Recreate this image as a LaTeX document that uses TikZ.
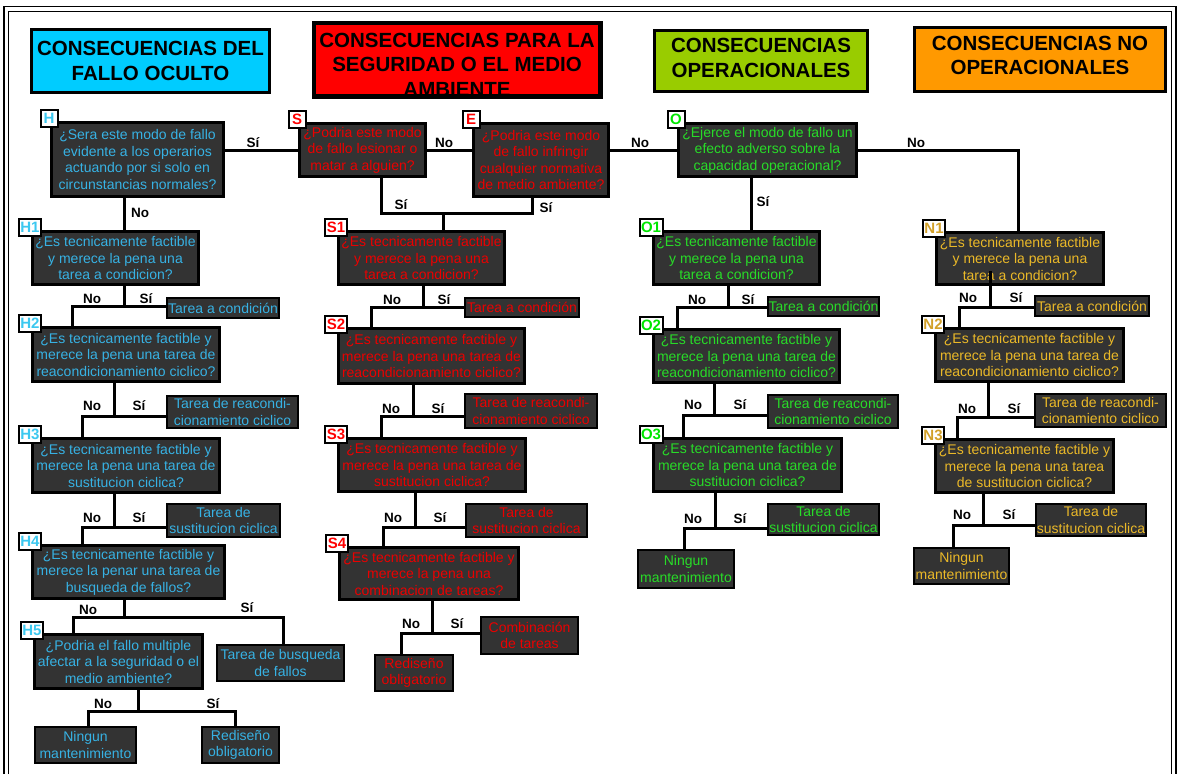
\documentclass[tikz,border=0pt]{standalone}
\usepackage{fontspec}
\setmainfont{Liberation Sans}
\definecolor{bxg}{RGB}{51,51,51}
\definecolor{hc}{RGB}{55,178,228}
\definecolor{sc}{RGB}{235,0,0}
\definecolor{oc}{RGB}{40,220,40}
\definecolor{nc}{RGB}{235,185,40}
\definecolor{htag}{RGB}{60,200,240}
\definecolor{otag}{RGB}{0,230,0}
\definecolor{ntag}{RGB}{210,160,40}
\definecolor{cyanh}{RGB}{0,204,255}
\definecolor{greenh}{RGB}{153,204,0}
\definecolor{orangeh}{RGB}{255,153,0}
\tikzset{
  qbox/.style={draw=black, line width=3pt, fill=bxg, inner sep=0pt, align=center, anchor=north west,
    font=\fontsize{14}{16.5}\selectfont},
  abox/.style={qbox, line width=2pt},
  tagbox/.style={draw=black, line width=2pt, fill=white, inner sep=1.5pt, minimum height=17pt, minimum width=17pt,
    font=\bfseries\fontsize{15}{15}\selectfont},
  hbox/.style={draw=black, line width=3pt, anchor=north west, inner sep=0pt},
  htext/.style={align=center, inner sep=0pt, font=\bfseries\fontsize{20.5}{24.5}\selectfont},
  conn/.style={line width=3pt, line join=miter},
  lab/.style={inner sep=0pt, font=\bfseries\fontsize{13.5}{13.5}\selectfont}
}
\newcommand\qb[7]{\node[qbox, text=#6, minimum width={#4-#2}, minimum height={#5-#3}] (#1) at (#2,#3) {#7};}
\newcommand\ab[7]{\node[abox, text=#6, minimum width={#4-#2}, minimum height={#5-#3}] (#1) at (#2,#3) {#7};}
\newcommand\tg[3]{\node[tagbox, text=#2] (tag#1) at ([xshift=-1pt,yshift=3pt]#1.north west) {#3};}
\newcommand\stp[6]{%
  \coordinate (#1j) at (#4,#5); \coordinate (#1l) at (#6,#5);
  \draw[conn] (#1.south -| #1j) -- (#1j);
  \draw[conn] (#2.north -| #1l) -- (#1l) -- (#3.west |- #1l);}
\begin{document}
\begin{tikzpicture}[x=1pt,y=-1pt]
\useasboundingbox (0,0) rectangle (1178,774);
\fill[white] (0,0) rectangle (1178,774);
% frame
\draw[line width=1.6pt] (4,774) -- (4,6.5) -- (1176,6.5) -- (1176,774);
\draw[line width=0.9pt] (8.5,774) -- (8.5,11) -- (1171,11) -- (1171,774);
% headers
\node[hbox, fill=cyanh, minimum width=238, minimum height=63] (hdrH) at (30,28) {};
\node[htext] (thdrH) at (hdrH.center) {CONSECUENCIAS DEL\\FALLO OCULTO};
\node[hbox, fill=red, minimum width=285, minimum height=72] (hdrS) at (313,22) {};
\node[htext] (thdrS) at ([yshift=-5pt]hdrS.center) {CONSECUENCIAS PARA LA\\SEGURIDAD O EL MEDIO\\AMBIENTE};
\fill[white] (310,96) rectangle (601,104);
\draw[line width=3pt] (hdrS.north west) rectangle (hdrS.south east);
\node[hbox, fill=greenh, minimum width=213, minimum height=61] (hdrO) at (653,29) {};
\node[htext] (thdrO) at ([yshift=3pt]hdrO.center) {CONSECUENCIAS\\OPERACIONALES};
\node[hbox, fill=orangeh, minimum width=251, minimum height=64] (hdrN) at (913,26) {};
\node[htext] (thdrN) at ([yshift=4pt]hdrN.center) {CONSECUENCIAS NO\\OPERACIONALES};
% column H
\qb{H}{50}{121}{222}{195}{hc}{¿Sera este modo de fallo\\evidente a los operarios\\actuando por si solo en\\circunstancias normales?}
\qb{H1}{31}{230}{197}{283}{hc}{¿Es tecnicamente factible\\y merece la pena una\\tarea a condicion?}
\ab{tH1}{166}{297}{278}{317}{hc}{Tarea a condición}
\qb{H2}{31}{326}{218}{380}{hc}{¿Es tecnicamente factible y\\merece la pena una tarea de\\reacondicionamiento ciclico?}
\ab{tH2}{166}{395}{297}{427}{hc}{Tarea de reacondi-\\cionamiento ciclico}
\qb{H3}{31}{437}{218}{491}{hc}{¿Es tecnicamente factible y\\merece la pena una tarea de\\sustitucion ciclica?}
\ab{tH3}{166}{503}{279}{536}{hc}{Tarea de\\sustitucion ciclica}
\qb{H4}{31}{544}{223}{597}{hc}{¿Es tecnicamente factible y\\merece la penar una tarea de\\busqueda de fallos?}
\ab{tH4}{216}{644}{343}{680}{hc}{Tarea de busqueda\\de fallos}
\qb{H5}{33}{633}{201}{687}{hc}{¿Podria el fallo multiple\\afectar a la seguridad o el\\medio ambiente?}
\ab{nH5}{34}{726}{135}{762}{hc}{Ningun\\mantenimiento}
\ab{rH5}{201}{726}{278}{762}{hc}{Rediseño\\obligatorio}
% column S
\qb{S}{298}{122}{424}{175}{sc}{¿Podria este modo\\de fallo lesionar o\\matar a alguien?}
\qb{E}{472}{122}{607}{195}{sc}{¿Podria este modo\\de fallo infringir\\cualquier normativa\\de medio ambiente?}
\qb{S1}{337}{230}{503}{283}{sc}{¿Es tecnicamente factible\\y merece la pena una\\tarea a condicion?}
\ab{tS1}{464}{297}{578}{316}{sc}{Tarea a condición}
\qb{S2}{337}{327}{523}{382}{sc}{¿Es tecnicamente factible y\\merece la pena una tarea de\\reacondicionamiento ciclico?}
\ab{tS2}{464}{393}{596}{427}{sc}{Tarea de reacondi-\\cionamiento ciclico}
\qb{S3}{337}{437}{524}{490}{sc}{¿Es tecnicamente factible y\\merece la pena una tarea de\\sustitucion ciclica?}
\ab{tS3}{465}{503}{586}{536}{sc}{Tarea de\\sustitucion ciclica}
\qb{S4}{338}{546}{517}{598}{sc}{¿Es tecnicamente factible y\\merece la pena una\\combinacion de tareas?}
\ab{cS4}{480}{616}{577}{653}{sc}{Combinación\\de tareas}
\ab{rS4}{374}{654}{452}{690}{sc}{Rediseño\\obligatorio}
% column O
\qb{O}{677}{122}{855}{175}{oc}{¿Ejerce el modo de fallo un\\efecto adverso sobre la\\capacidad operacional?}
\qb{O1}{652}{230}{818}{283}{oc}{¿Es tecnicamente factible\\y merece la pena una\\tarea a condicion?}
\ab{tO1}{767}{296}{878}{315}{oc}{Tarea a condición}
\qb{O2}{652}{328}{838}{381}{oc}{¿Es tecnicamente factible y\\merece la pena una tarea de\\reacondicionamiento ciclico?}
\ab{tO2}{767}{394}{897}{427}{oc}{Tarea de reacondi-\\cionamiento ciclico}
\qb{O3}{652}{437}{840}{490}{oc}{¿Es tecnicamente factible y\\merece la pena una tarea de\\sustitucion ciclica?}
\ab{tO3}{767}{503}{878}{534}{oc}{Tarea de\\sustitucion ciclica}
\ab{nO3}{637}{549}{733}{587}{oc}{Ningun\\mantenimiento}
% column N
\qb{N1}{935}{231}{1102}{283}{nc}{¿Es tecnicamente factible\\y merece la pena una\\tarea a condicion?}
\ab{tN1}{1034}{295}{1148}{315}{nc}{Tarea a condición}
\qb{N2}{934}{327}{1122}{380}{nc}{¿Es tecnicamente factible y\\merece la pena una tarea de\\reacondicionamiento ciclico?}
\ab{tN2}{1034}{393}{1165}{426}{nc}{Tarea de reacondi-\\cionamiento ciclico}
\qb{N3}{934}{438}{1112}{491}{nc}{¿Es tecnicamente factible y\\merece la pena una tarea\\de sustitucion ciclica?}
\ab{tN3}{1035}{503}{1145}{535}{nc}{Tarea de\\sustitucion ciclica}
\ab{nN3}{913}{547}{1008}{583}{nc}{Ningun\\mantenimiento}
% tags
\tg{H}{htag}{H}\tg{H1}{htag}{H1}\tg{H2}{htag}{H2}\tg{H3}{htag}{H3}\tg{H4}{htag}{H4}\tg{H5}{htag}{H5}
\tg{S}{red}{S}\tg{E}{red}{E}\tg{S1}{red}{S1}\tg{S2}{red}{S2}\tg{S3}{red}{S3}\tg{S4}{red}{S4}
\tg{O}{otag}{O}\tg{O1}{otag}{O1}\tg{O2}{otag}{O2}\tg{O3}{otag}{O3}
\tg{N1}{ntag}{N1}\tg{N2}{ntag}{N2}\tg{N3}{ntag}{N3}
% top row connectors
\coordinate (r1) at (0,150);
\draw[conn] (H.east |- r1) -- (S.west |- r1);
\draw[conn] (S.east |- r1) -- (E.west |- r1);
\draw[conn] (E.east |- r1) -- (O.west |- r1);
\coordinate (oN) at (1018,150);
\draw[conn] (O.east |- r1) -- (oN) -- (N1.north -| oN);
\coordinate (hs) at (124,0);
\draw[conn] (H.south -| hs) -- (H1.north -| hs);
\coordinate (se1) at (381,213); \coordinate (se2) at (532,213); \coordinate (se3) at (443,213);
\draw[conn] (S.south -| se1) -- (se1) -- (se2) -- (E.south -| se2);
\draw[conn] (se3) -- (S1.north -| se3);
\coordinate (os) at (751,0);
\draw[conn] (O.south -| os) -- (O1.north -| os);
% steps H
\stp{H1}{H2}{tH1}{124}{306}{72}
\stp{H2}{H3}{tH2}{114}{416}{82}
\stp{H3}{H4}{tH3}{114}{527}{82}
\coordinate (H4j) at (124,617); \coordinate (H4l) at (73,617); \coordinate (H4r) at (283,617);
\draw[conn] (H4.south -| H4j) -- (H4j);
\draw[conn] (H5.north -| H4l) -- (H4l) -- (H4r) -- (tH4.north -| H4r);
\coordinate (H5j) at (138,711); \coordinate (H5l) at (88,711); \coordinate (H5r) at (235,711);
\draw[conn] (H5.south -| H5j) -- (H5j);
\draw[conn] (nH5.north -| H5l) -- (H5l) -- (H5r) -- (rH5.north -| H5r);
% steps S
\stp{S1}{S2}{tS1}{423}{307}{371}
\stp{S2}{S3}{tS2}{413}{416}{381}
\stp{S3}{S4}{tS3}{415}{527}{383}
\stp{S4}{rS4}{cS4}{432}{633}{401}
% steps O
\stp{O1}{O2}{tO1}{728}{307}{677}
\stp{O2}{O3}{tO2}{714}{415}{683}
\stp{O3}{nO3}{tO3}{715}{528}{684}
% steps N
\stp{N1}{N2}{tN1}{990}{307}{959}
\draw[conn] ([yshift=15pt]N1.south -| N1j) -- (N1.south -| N1j);
\stp{N2}{N3}{tN2}{988}{417}{957}
\stp{N3}{nN3}{tN3}{983}{525}{953}
% labels
\node[lab] (l01) at (253,143) {Sí};
\node[lab] (l02) at (444,143) {No};
\node[lab] (l03) at (640,143) {No};
\node[lab] (l04) at (916,143) {No};
\node[lab] (l05) at (140,213) {No};
\node[lab] (l06) at (401,205) {Sí};
\node[lab] (l07) at (546,208) {Sí};
\node[lab] (l08) at (763,202) {Sí};
\node[lab] (l09) at (92,299) {No};  \node[lab] (l10) at (146,299) {Sí};
\node[lab] (l11) at (92,406) {No};  \node[lab] (l12) at (139,406) {Sí};
\node[lab] (l13) at (92,518) {No};  \node[lab] (l14) at (139,518) {Sí};
\node[lab] (l15) at (88,610) {No};  \node[lab] (l16) at (247,608) {Sí};
\node[lab] (l17) at (103,704) {No}; \node[lab] (l18) at (213,704) {Sí};
\node[lab] (l19) at (392,300) {No}; \node[lab] (l20) at (444,300) {Sí};
\node[lab] (l21) at (391,409) {No}; \node[lab] (l22) at (438,409) {Sí};
\node[lab] (l23) at (393,518) {No}; \node[lab] (l24) at (440,518) {Sí};
\node[lab] (l25) at (411,624) {No}; \node[lab] (l26) at (457,624) {Sí};
\node[lab] (l27) at (697,300) {No}; \node[lab] (l28) at (748,300) {Sí};
\node[lab] (l29) at (693,405) {No}; \node[lab] (l30) at (740,405) {Sí};
\node[lab] (l31) at (693,519) {No}; \node[lab] (l32) at (740,519) {Sí};
\node[lab] (l33) at (968,298) {No}; \node[lab] (l34) at (1016,298) {Sí};
\node[lab] (l35) at (967,409) {No}; \node[lab] (l36) at (1014,409) {Sí};
\node[lab] (l37) at (962,515) {No}; \node[lab] (l38) at (1009,515) {Sí};
\end{tikzpicture}
\end{document}
